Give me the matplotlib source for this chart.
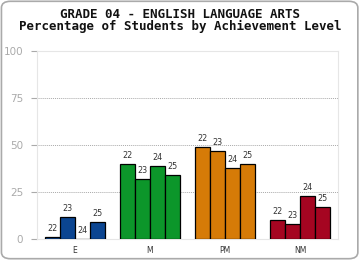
import matplotlib
matplotlib.use("Agg")
import matplotlib.pyplot as plt
from matplotlib.patches import FancyBboxPatch
import numpy as np

##########
# Data   #
##########

levels = ["E", "M", "PM", "NM"]
years = ["22", "23", "24", "25"]
colors = ["#0b4591", "#0c962a", "#d67b07", "#a50521"]
# percentage per level, one list per year
pct_22 = [1, 40, 49, 10]
pct_23 = [12, 32, 47, 8]
pct_24 = [0, 39, 38, 23]
pct_25 = [9, 34, 40, 17]
yticks = [0, 25, 50, 75, 100]

###########
# Program #
###########

fig = plt.figure(figsize=(3.6, 2.6), dpi=100)
border = FancyBboxPatch((0.004, 0.005), 0.99, 0.99, transform=fig.transFigure,
                        boxstyle="round,pad=0,rounding_size=0.025",
                        facecolor="none", edgecolor="#aaaaaa", linewidth=1.2,
                        zorder=5)
fig.patches.append(border)

ax = fig.add_axes([0.1028, 0.0796, 0.836, 0.7242])
ax.set_facecolor("white")

series = [pct_22, pct_23, pct_24, pct_25]
x = np.arange(len(levels))
width = 0.2
for i, vals in enumerate(series):
    pos = x - 0.3 + i * width
    ax.bar(pos, vals, width=width, color=colors, edgecolor="black",
           linewidth=0.9, zorder=3)
    for p, v in zip(pos, vals):
        ax.annotate(years[i], (p, v), xytext=(0, 3), textcoords="offset points",
                    ha="center", va="bottom", fontsize=5.8, color="#333333",
                    family="DejaVu Sans")

ax.set_xlim(-0.5, len(levels) - 0.5)
ax.set_ylim(0, 100)
ax.set_yticks(yticks)
ax.set_yticklabels([str(t) for t in yticks], fontsize=7.5, color="#aaaaaa")
ax.set_xticks(x)
ax.set_xticklabels(levels, fontsize=5.5, color="#333333")
ax.tick_params(axis="x", length=0, pad=5)
ax.tick_params(axis="y", length=4, color="#aaaaaa", width=0.8, pad=6)
for t in [25, 50, 75]:
    ax.axhline(t, color="#aaaaaa", linestyle=(0, (1, 1)), linewidth=0.7, zorder=1)
for s in ax.spines.values():
    s.set_color("#e6e6e6")
    s.set_linewidth(0.8)

title = "GRADE 04 - ENGLISH LANGUAGE ARTS\nPercentage of Students by Achievement Level"
fig.text(0.5, 1 - 7.5 / 260, title, ha="center", va="top", ma="center",
         fontsize=9.0, fontweight="bold", family="DejaVu Sans Mono",
         color="#111111", linespacing=0.95)

fig.savefig("out.png", dpi=100)
